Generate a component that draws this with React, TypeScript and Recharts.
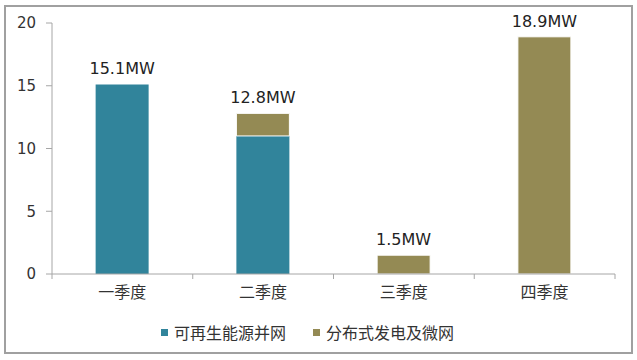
import React from "react";
import { BarChart, Bar, XAxis, YAxis, Legend, LabelList } from "recharts";

const categories = ["一季度", "二季度", "三季度", "四季度"];
const renewable: (number | null)[] = [15.1, 11.0, null, null];
const distributed: number[] = [0, 1.8, 1.5, 18.9];
const yTicks = [0, 5, 10, 15, 20];
const seriesNames = ["可再生能源并网", "分布式发电及微网"];
const colors = ["#31849B", "#948A54"];

const data = categories.map((c, i) => {
  const total = (renewable[i] ?? 0) + distributed[i];
  const onTop = distributed[i] > 0;
  return {
    name: c,
    renewable: renewable[i],
    distributed: distributed[i],
    labelTop: onTop ? total : null,
    labelBottom: onTop ? null : total,
  };
});

const NUM_FONT = "'DejaVu Sans', 'Noto Sans CJK SC', sans-serif";
const CJK_FONT = "'Noto Sans CJK SC', sans-serif";

const XTick = (props: any) => {
  const { x, y, payload, index } = props;
  const half = payload.offset || 0;
  return (
    <g>
      <line x1={x - half} x2={x - half} y1={y - 8} y2={y - 3} stroke="#A6A6A6" />
      {index === categories.length - 1 && (
        <line x1={x + half} x2={x + half} y1={y - 8} y2={y - 3} stroke="#A6A6A6" />
      )}
      <text x={x} y={y + 16} textAnchor="middle" fontSize={16} fill="#333" fontFamily={CJK_FONT}>
        {payload.value}
      </text>
    </g>
  );
};

const TotalLabel = (props: any) => {
  const { x, y, width, value } = props;
  if (value === null || value === undefined || value === "") return null;
  return (
    <text
      x={Number(x) + Number(width) / 2}
      y={Number(y) - 10}
      textAnchor="middle"
      fontSize={16}
      fill="#222"
      fontFamily={NUM_FONT}
    >
      {`${Number(value).toFixed(1)}MW`}
    </text>
  );
};

const renderLegend = () => (
  <div style={{ display: "flex", justifyContent: "center", alignItems: "center", fontFamily: CJK_FONT, fontSize: 16, color: "#333" }}>
    {seriesNames.map((n, i) => (
      <div key={n} style={{ display: "flex", alignItems: "center", marginRight: i === 0 ? 27 : 0 }}>
        <span style={{ width: 7, height: 7, background: colors[i], display: "inline-block", marginRight: 6 }} />
        <span>{n}</span>
      </div>
    ))}
  </div>
);

export default function App() {
  return (
    <div style={{ position: "fixed", left: 0, top: 0, width: 637, height: 360, background: "#fff" }}>
      <div
        style={{
          position: "absolute",
          left: 4,
          top: 5,
          width: 625,
          height: 345,
          border: "2px solid #A0A0A0",
        }}
      />
      <div style={{ position: "absolute", left: 0, top: 0 }}>
        <BarChart
          width={637}
          height={360}
          data={data}
          margin={{ top: 23, right: 22, left: 0, bottom: 14 }}
          barCategoryGap="31%"
        >
          <XAxis
            dataKey="name"
            height={46}
            axisLine={{ stroke: "#A6A6A6" }}
            tickLine={false}
            tick={<XTick />}
            interval={0}
          />
          <YAxis
            width={52}
            domain={[0, 20]}
            ticks={yTicks}
            axisLine={{ stroke: "#A6A6A6" }}
            tickLine={{ stroke: "#A6A6A6" }}
            tickSize={6}
            tickMargin={10}
            tick={{ fontSize: 15, fill: "#333", fontFamily: NUM_FONT }}
          />
          <Legend verticalAlign="bottom" height={26} content={renderLegend} />
          <Bar dataKey="renewable" name={seriesNames[0]} stackId="a" fill={colors[0]} isAnimationActive={false}>
            <LabelList dataKey="labelBottom" content={<TotalLabel />} />
          </Bar>
          <Bar
            dataKey="distributed"
            name={seriesNames[1]}
            stackId="a"
            fill={colors[1]}
            stroke="#fff"
            strokeWidth={1}
            isAnimationActive={false}
          >
            <LabelList dataKey="labelTop" content={<TotalLabel />} />
          </Bar>
        </BarChart>
      </div>
    </div>
  );
}
